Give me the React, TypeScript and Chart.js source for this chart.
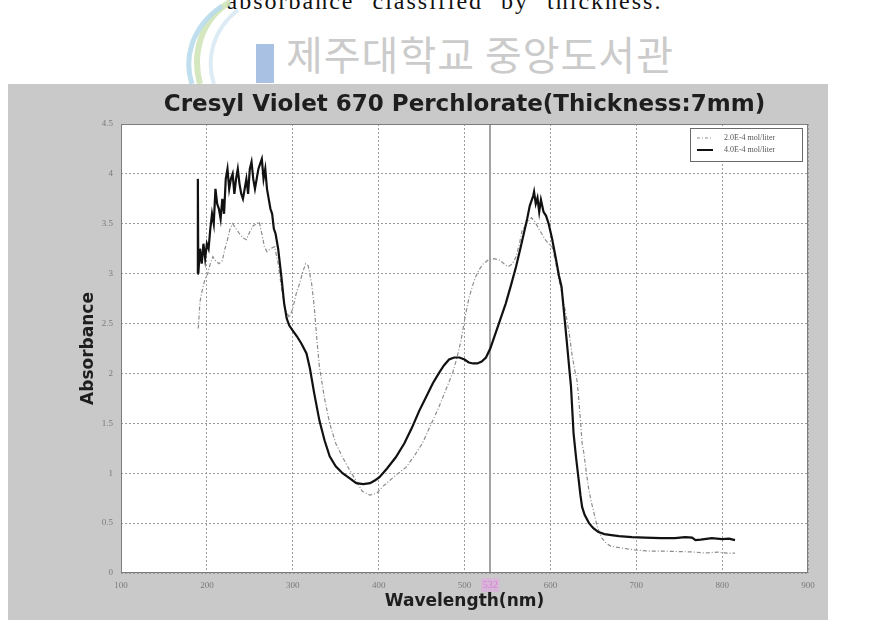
import React, { useEffect, useRef } from 'react';
import { Chart, registerables } from 'chart.js';

Chart.register(...registerables);

const CAPTION = 'absorbance classified by thickness.';
const WATERMARK = '제주대학교 중앙도서관';
const TITLE = 'Cresyl Violet 670 Perchlorate(Thickness:7mm)';
const X_TITLE = 'Wavelength(nm)';
const Y_TITLE = 'Absorbance';
const SERIES_LABELS = ['2.0E-4 mol/liter', '4.0E-4 mol/liter'];
const X_MIN = 100;
const X_MAX = 900;
const X_STEP = 100;
const Y_MIN = 0;
const Y_MAX = 4.5;
const Y_STEP = 0.5;
const MARK_WL = 530;
const MARK_LABEL = '532';

// 4.0E-4 mol/liter (solid black)
const highWl = [
  189, 189.5, 190, 192, 194, 196, 198, 200, 202, 204, 206, 208, 210, 212, 214, 216, 218, 220,
  222, 224, 226, 228, 230, 232, 234, 236, 238, 240, 242, 244, 246, 248, 250, 252, 254, 256,
  258, 260, 262, 264, 266, 268, 270, 272, 274, 276, 278, 280, 283, 287, 290, 293, 296, 300,
  305, 310, 316, 320, 325, 331, 337, 343, 350, 358, 366, 374, 382, 390, 396, 401, 410, 420,
  430, 439, 447, 455, 463, 470, 476, 482, 488, 494, 500, 505, 510, 515, 520, 525, 530, 536,
  542, 548, 554, 560, 565, 569, 573, 576, 578, 580, 581, 583, 585, 587, 589, 590, 592, 595,
  598, 602, 606, 610, 613, 616, 619, 622, 624, 627, 630, 633, 635, 637, 640, 645, 650, 656,
  663, 671, 680, 695, 710, 729, 745, 757, 765, 769, 775, 788, 800, 808, 815,
];
const highAbs = [
  3.0, 3.95, 3.0, 3.25, 3.1, 3.3, 3.15, 3.3, 3.25, 3.45, 3.6, 3.5, 3.85, 3.7, 3.65, 3.55, 3.75, 3.6,
  3.95, 4.05, 3.85, 3.95, 4.0, 3.8, 3.95, 4.05, 3.9, 3.8, 3.75, 3.85, 3.95, 3.8, 4.05, 4.12, 3.95, 3.85,
  3.95, 4.05, 4.1, 4.15, 3.95, 4.05, 3.85, 3.75, 3.65, 3.6, 3.45, 3.4, 3.25, 2.95, 2.7, 2.55, 2.48, 2.43,
  2.37, 2.3, 2.2, 2.05, 1.8, 1.53, 1.33, 1.17, 1.07, 1.0, 0.95, 0.9, 0.89, 0.9, 0.93, 0.96, 1.05, 1.16,
  1.3, 1.46, 1.62, 1.76, 1.9, 2.0, 2.08, 2.14, 2.16, 2.16, 2.14, 2.11, 2.1, 2.1, 2.12, 2.16, 2.25, 2.4,
  2.55, 2.7, 2.88, 3.07, 3.25, 3.4, 3.55, 3.68, 3.73, 3.78, 3.82, 3.7, 3.76, 3.62, 3.74, 3.7, 3.62, 3.58,
  3.5, 3.35, 3.17, 2.98, 2.87, 2.6, 2.33, 2.05, 1.87, 1.4, 1.15, 0.93, 0.78, 0.66, 0.58, 0.5, 0.45, 0.41,
  0.39, 0.38, 0.37, 0.36, 0.355, 0.35, 0.35, 0.36, 0.355, 0.33, 0.335, 0.35, 0.34, 0.345, 0.33,
];

// 2.0E-4 mol/liter (dash-dot grey)
const lowWl = [
  190, 192, 195, 198, 201, 204, 207, 210, 214, 218, 221, 224, 227, 230, 234, 238, 242, 246,
  250, 254, 258, 261, 264, 267, 270, 274, 279, 283, 287, 291, 296, 300, 304, 308, 311, 315,
  318, 322, 325, 328, 331, 337, 343, 350, 358, 365, 372, 381, 390, 398, 404, 412, 420, 432,
  442, 451, 460, 470, 478, 486, 491, 496, 501, 505, 509, 513, 517, 522, 528, 534, 540, 546,
  551, 556, 560, 564, 567, 572, 578, 582, 587, 590, 594, 598, 602, 606, 610, 614, 618, 622,
  625, 628, 631, 633, 635, 637, 639, 642, 645, 648, 650, 655, 660, 665, 670, 683, 700, 715,
  729, 750, 768, 780, 795, 805, 815,
];
const lowAbs = [
  2.45, 2.72, 2.85, 2.95, 3.0, 3.1, 3.17, 3.13, 3.1, 3.13, 3.25, 3.34, 3.45, 3.5, 3.45, 3.4, 3.36, 3.34,
  3.42, 3.48, 3.5, 3.52, 3.4, 3.27, 3.22, 3.25, 3.27, 3.1, 2.85, 2.65, 2.56, 2.65, 2.8, 2.9, 3.0, 3.1,
  3.08, 2.9, 2.67, 2.35, 2.07, 1.75, 1.5, 1.3, 1.16, 1.05, 0.95, 0.82, 0.78, 0.8, 0.86, 0.92, 0.98, 1.06,
  1.18, 1.3, 1.47, 1.66, 1.83, 2.0, 2.15, 2.33, 2.58, 2.75, 2.87, 2.97, 3.04, 3.1, 3.14, 3.15, 3.14, 3.1,
  3.07, 3.1, 3.17, 3.3, 3.43, 3.5, 3.56, 3.52, 3.44, 3.4, 3.34, 3.3, 3.27, 3.12, 2.94, 2.78, 2.6, 2.4,
  2.2, 2.05, 1.93, 1.75, 1.53, 1.3, 1.2, 1.0, 0.82, 0.7, 0.63, 0.45, 0.35, 0.3, 0.27, 0.25, 0.23, 0.22,
  0.22, 0.215, 0.21, 0.2, 0.21, 0.2, 0.2,
];

const PANEL_BG = '#c9c9c9';
const GRID = '#9c9c9c';
const FRAME = '#7c7c7c';
const TICK_COLOR = '#7a7a7a';

const decorPlugin = {
  id: 'decor',
  beforeDraw(chart: any) {
    const { ctx, chartArea: a, width, height } = chart;
    ctx.save();
    ctx.fillStyle = PANEL_BG;
    ctx.fillRect(0, 0, width, height);
    ctx.fillStyle = '#ffffff';
    ctx.fillRect(a.left, a.top, a.right - a.left, a.bottom - a.top);
    ctx.restore();
  },
  beforeDatasetsDraw(chart: any) {
    const { ctx, chartArea: a } = chart;
    const x = Math.round(chart.scales.x.getPixelForValue(MARK_WL));
    ctx.save();
    ctx.strokeStyle = '#a3a3a3';
    ctx.lineWidth = 2;
    ctx.beginPath();
    ctx.moveTo(x, a.top);
    ctx.lineTo(x, a.bottom);
    ctx.stroke();
    ctx.restore();
  },
  afterDraw(chart: any) {
    const { ctx, chartArea: a } = chart;
    ctx.save();
    ctx.strokeStyle = FRAME;
    ctx.lineWidth = 1;
    ctx.strokeRect(a.left + 0.5, a.top + 0.5, a.right - a.left - 1, a.bottom - a.top - 1);

    // marker label
    const x = chart.scales.x.getPixelForValue(MARK_WL);
    ctx.fillStyle = 'rgba(235, 160, 235, 0.45)';
    ctx.fillRect(x - 9, a.bottom + 5, 18, 14);
    ctx.fillStyle = '#d67fd6';
    ctx.font = '10px "Liberation Serif"';
    ctx.textAlign = 'center';
    ctx.textBaseline = 'middle';
    ctx.fillText(MARK_LABEL, x, a.bottom + 12);

    // legend
    const w = 113;
    const h = 34;
    const lx = a.right - 5 - w;
    const ly = a.top + 4;
    ctx.fillStyle = '#ffffff';
    ctx.fillRect(lx, ly, w, h);
    ctx.strokeStyle = '#6a6a6a';
    ctx.strokeRect(lx + 0.5, ly + 0.5, w - 1, h - 1);
    const rows = [
      { label: SERIES_LABELS[0], color: '#8c8c8c', dash: [3, 2, 1, 2], lw: 1 },
      { label: SERIES_LABELS[1], color: '#111111', dash: [], lw: 2 },
    ];
    rows.forEach((r, i) => {
      const yy = ly + 10 + i * 12;
      ctx.strokeStyle = r.color;
      ctx.lineWidth = r.lw;
      ctx.setLineDash(r.dash);
      ctx.beginPath();
      ctx.moveTo(lx + 7, yy);
      ctx.lineTo(lx + 23, yy);
      ctx.stroke();
      ctx.setLineDash([]);
      ctx.fillStyle = '#555555';
      ctx.font = '8px "Liberation Serif"';
      ctx.textAlign = 'left';
      ctx.textBaseline = 'middle';
      ctx.fillText(r.label, lx + 34, yy);
    });
    ctx.restore();
  },
};

export default function App() {
  const ref = useRef<HTMLCanvasElement | null>(null);

  useEffect(() => {
    if (!ref.current) return;
    const chart = new Chart(ref.current, {
      type: 'line',
      data: {
        datasets: [
          {
            label: SERIES_LABELS[1],
            data: highWl.map((x, i) => ({ x, y: highAbs[i] })),
            borderColor: '#111111',
            borderWidth: 2.2,
            pointRadius: 0,
            tension: 0,
            fill: false,
          },
          {
            label: SERIES_LABELS[0],
            data: lowWl.map((x, i) => ({ x, y: lowAbs[i] })),
            borderColor: '#8c8c8c',
            borderWidth: 1.2,
            borderDash: [4, 2, 1, 2],
            pointRadius: 0,
            tension: 0,
            fill: false,
          },
        ],
      },
      options: {
        animation: false,
        responsive: false,
        maintainAspectRatio: false,
        events: [],
        layout: { padding: { left: 0, right: 20, top: 0, bottom: 0 } },
        plugins: {
          legend: { display: false },
          tooltip: { enabled: false },
          title: {
            display: true,
            text: TITLE,
            fullSize: false,
            color: '#1e1e1e',
            font: { family: '"DejaVu Sans"', weight: 'bold', size: 23, lineHeight: 1.2 },
            padding: { top: 7.2, bottom: 5.2 },
          },
        },
        scales: {
          x: {
            type: 'linear',
            min: X_MIN,
            max: X_MAX,
            afterFit: (s: any) => {
              s.height = 47;
            },
            ticks: {
              stepSize: X_STEP,
              padding: 7,
              color: TICK_COLOR,
              font: { family: '"Liberation Serif"', size: 9 },
              callback: (v: any) => String(v),
              maxRotation: 0,
            },
            grid: { color: GRID, lineWidth: 1, drawTicks: false },
            border: { display: false, dash: [2, 2] },
            title: {
              display: true,
              text: X_TITLE,
              color: '#1e1e1e',
              font: { family: '"DejaVu Sans"', weight: 'bold', size: 17, lineHeight: 1.2 },
              padding: { top: 0, bottom: 8 },
            },
          },
          y: {
            type: 'linear',
            min: Y_MIN,
            max: Y_MAX,
            afterFit: (s: any) => {
              s.width = 113;
            },
            ticks: {
              stepSize: Y_STEP,
              padding: 8,
              color: TICK_COLOR,
              font: { family: '"Liberation Serif"', size: 9 },
              callback: (v: any) => String(v),
            },
            grid: { color: GRID, lineWidth: 1, drawTicks: false },
            border: { display: false, dash: [2, 2] },
            title: {
              display: true,
              text: Y_TITLE,
              color: '#1e1e1e',
              font: { family: '"DejaVu Sans"', weight: 'bold', size: 17, lineHeight: 1.2 },
              padding: { top: 70, bottom: 0 },
            },
          },
        },
      } as any,
      plugins: [decorPlugin],
    });
    return () => chart.destroy();
  }, []);

  return (
    <div style={{ position: 'absolute', left: 0, top: 0, width: 875, height: 627, overflow: 'hidden', background: '#ffffff' }}>
      <div
        style={{
          position: 'absolute',
          left: 0,
          width: 875,
          top: -11,
          textAlign: 'center',
          fontFamily: '"Liberation Serif", serif',
          fontSize: 24,
          lineHeight: '24px',
          letterSpacing: 2,
          wordSpacing: 10,
          color: '#111',
          paddingLeft: 14,
          boxSizing: 'border-box',
        }}
      >
        {CAPTION}
      </div>
      <svg style={{ position: 'absolute', left: 170, top: 0 }} width={80} height={84}>
        <path d="M60 2 C 30 20, 22 55, 30 84" stroke="#cfe4b8" strokeWidth={6} fill="none" opacity={0.9} />
        <path d="M52 6 C 20 28, 14 60, 22 84" stroke="#b9dcec" strokeWidth={5} fill="none" opacity={0.9} />
        <path d="M68 10 C 42 30, 36 60, 44 84" stroke="#d9e9f3" strokeWidth={4} fill="none" opacity={0.9} />
      </svg>
      <div style={{ position: 'absolute', left: 256, top: 44, width: 18, height: 39, background: '#a9c2e3' }} />
      <div
        style={{
          position: 'absolute',
          left: 286,
          top: 26,
          fontFamily: '"Noto Sans CJK KR", sans-serif',
          fontSize: 40,
          lineHeight: '54px',
          color: '#cbcbcb',
          letterSpacing: 1,
          whiteSpace: 'nowrap',
        }}
      >
        {WATERMARK}
      </div>
      <canvas
        ref={ref}
        width={820}
        height={536}
        style={{ position: 'absolute', left: 8, top: 84, width: 820, height: 536 }}
      />
    </div>
  );
}
